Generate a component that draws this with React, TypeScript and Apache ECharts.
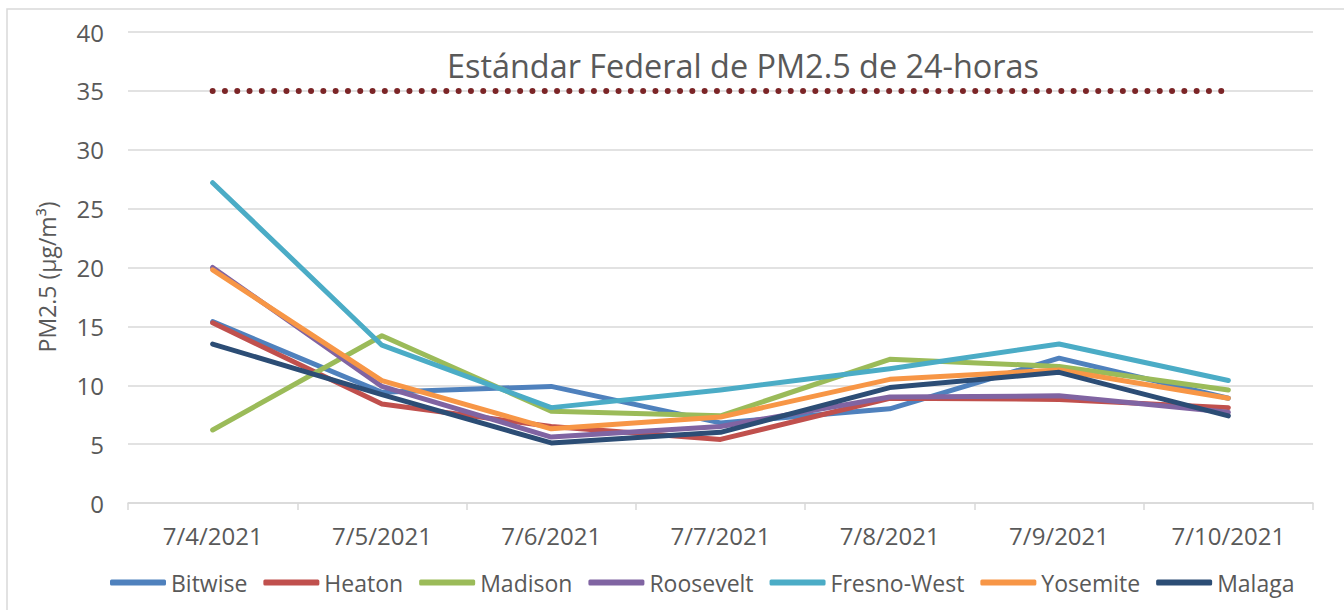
import React, { useEffect, useRef } from "react";
import * as echarts from "echarts";

const categories = ["7/4/2021", "7/5/2021", "7/6/2021", "7/7/2021", "7/8/2021", "7/9/2021", "7/10/2021"];
const bitwise = [15.4, 9.4, 9.9, 6.8, 8.0, 12.3, 8.9];
const heaton = [15.3, 8.4, 6.5, 5.4, 8.9, 8.8, 8.1];
const madison = [6.2, 14.2, 7.8, 7.4, 12.2, 11.6, 9.6];
const roosevelt = [20.0, 9.9, 5.6, 6.5, 9.0, 9.1, 7.7];
const fresnoWest = [27.2, 13.4, 8.1, 9.6, 11.4, 13.5, 10.4];
const yosemite = [19.8, 10.4, 6.3, 7.3, 10.5, 11.3, 8.9];
const malaga = [13.5, 9.2, 5.1, 6.0, 9.8, 11.1, 7.4];
const standard = [35, 35, 35, 35, 35, 35, 35];
const yTicks = { min: 0, max: 40, interval: 5 };

const seriesDefs = [
  { name: "Bitwise", data: bitwise, color: "#4f81bd" },
  { name: "Heaton", data: heaton, color: "#c0504d" },
  { name: "Madison", data: madison, color: "#9bbb59" },
  { name: "Roosevelt", data: roosevelt, color: "#8064a2" },
  { name: "Fresno-West", data: fresnoWest, color: "#4bacc6" },
  { name: "Yosemite", data: yosemite, color: "#f79646" },
  { name: "Malaga", data: malaga, color: "#2c4d75" },
];

const FONT = "'Open Sans', sans-serif";

export default function App() {
  const ref = useRef<HTMLDivElement>(null);
  useEffect(() => {
    document.body.style.margin = "0";
    const chart = echarts.init(ref.current!, null, { renderer: "svg" });
    chart.setOption({
      animation: false,
      backgroundColor: "#ffffff",
      textStyle: { fontFamily: FONT },
      grid: { left: 128, right: 31, top: 32, bottom: 107 },
      legend: {
        data: seriesDefs.map((s) => s.name),
        left: 105,
        top: 566,
        icon: "roundRect",
        itemWidth: 56,
        itemHeight: 6,
        itemGap: 16,
        textStyle: { fontSize: 23, color: "#595959", fontFamily: FONT },
      },
      xAxis: {
        type: "category",
        data: categories,
        boundaryGap: true,
        axisLine: { lineStyle: { color: "#d9d9d9", width: 1.5 } },
        axisTick: { show: true, length: 7, lineStyle: { color: "#d9d9d9", width: 1.5 } },
        axisLabel: { fontSize: 24, color: "#595959", margin: 20, fontFamily: FONT },
        splitLine: { show: false },
      },
      yAxis: {
        type: "value",
        min: yTicks.min,
        max: yTicks.max,
        interval: yTicks.interval,
        axisLine: { show: false },
        axisTick: { show: false },
        axisLabel: { fontSize: 24, color: "#595959", margin: 24, fontFamily: FONT },
        splitLine: { lineStyle: { color: "#d9d9d9", width: 1.5 } },
      },
      graphic: [
        {
          type: "rect",
          shape: { x: 7, y: 9, width: 1400, height: 700 },
          style: { fill: "none", stroke: "#d9d9d9", lineWidth: 1.5 },
          silent: true,
        },
        {
          type: "text",
          x: 743,
          y: 65,
          style: {
            text: "Estándar Federal de PM2.5 de 24-horas",
            fontSize: 32.4,
            fill: "#595959",
            fontFamily: FONT,
            textAlign: "center",
            textVerticalAlign: "middle",
          },
        },
        {
          type: "text",
          x: 47,
          y: 277,
          rotation: Math.PI / 2,
          style: {
            text: "PM2.5 (µg/m³)",
            fontSize: 23,
            fill: "#595959",
            fontFamily: FONT,
            textAlign: "center",
            textVerticalAlign: "middle",
          },
        },
      ],
      series: [
        {
          name: "Estándar",
          type: "line",
          data: standard,
          symbol: "none",
          silent: true,
          lineStyle: { color: "#7b2527", width: 6, type: [0, 12.3], cap: "round" },
          z: 1,
        },
        ...seriesDefs.map((s, i) => ({
          name: s.name,
          type: "line",
          data: s.data,
          symbol: "none",
          color: s.color,
          lineStyle: { color: s.color, width: 5, cap: "round", join: "round" },
          z: 2 + i,
        })),
      ],
    });
    return () => chart.dispose();
  }, []);
  return <div ref={ref} style={{ position: "absolute", left: 0, top: 0, width: 1344, height: 610 }} />;
}
